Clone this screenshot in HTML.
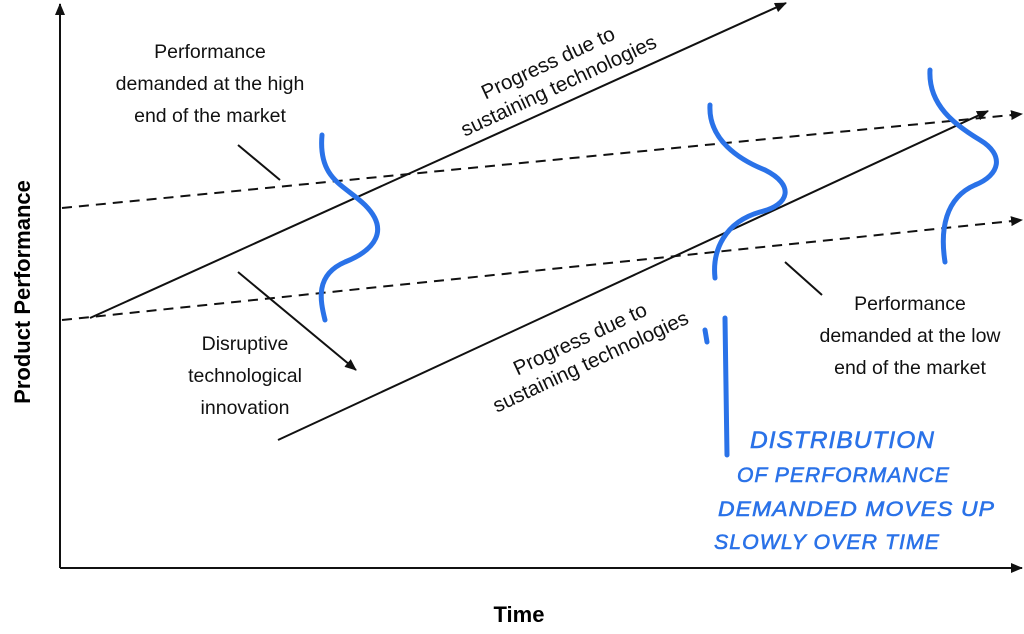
<!DOCTYPE html>
<html><head><style>
body{margin:0;background:#fff;width:1024px;height:634px;overflow:hidden}
svg{display:block}
.t{font-family:"Liberation Sans",sans-serif;font-size:19.5px;fill:#111}
.b{font-family:"Liberation Sans",sans-serif;font-size:24px;fill:#2a72e8;stroke:#2a72e8;stroke-width:0.6;font-style:italic;letter-spacing:1px}
</style></head><body>
<svg width="1024" height="634" viewBox="0 0 1024 634">
<defs><marker id="a" markerWidth="12" markerHeight="10" refX="11" refY="5" orient="auto" markerUnits="userSpaceOnUse"><path d="M0,0 L12,5 L0,10 z" fill="#111"/></marker></defs>
<g stroke="#111" stroke-width="2" fill="none">
<line x1="60" y1="568" x2="60" y2="4" marker-end="url(#a)"/>
<line x1="60" y1="568" x2="1022" y2="568" marker-end="url(#a)"/>
<line x1="62" y1="208" x2="1022" y2="114" stroke-dasharray="10,7" marker-end="url(#a)"/>
<line x1="62" y1="320" x2="1022" y2="220" stroke-dasharray="10,7" marker-end="url(#a)"/>
<line x1="90" y1="318" x2="786" y2="3" marker-end="url(#a)"/>
<line x1="278" y1="440" x2="988" y2="111" marker-end="url(#a)"/>
<line x1="238" y1="145" x2="280" y2="180"/>
<line x1="238" y1="272" x2="356" y2="370" marker-end="url(#a)"/>
<line x1="785" y1="262" x2="822" y2="295"/>
</g>
<g stroke="#2a72e8" stroke-width="5" fill="none" stroke-linecap="round">
<path d="M322,135 C318,180 345,185 365,205 C390,230 375,250 345,262 C315,275 320,300 325,320"/>
<path d="M710,105 C708,140 740,160 765,170 C795,185 790,205 760,212 C725,222 712,250 715,278"/>
<path d="M930,70 C928,105 955,125 980,140 C1005,155 1000,175 975,185 C945,198 940,230 945,262"/>
<line x1="725" y1="318" x2="727" y2="455"/>
<line x1="705" y1="330" x2="707" y2="342"/>
</g>
<text class="t" text-anchor="middle" x="210" y="58">Performance</text>
<text class="t" text-anchor="middle" x="210" y="90">demanded at the high</text>
<text class="t" text-anchor="middle" x="210" y="122">end of the market</text>
<text class="t" text-anchor="middle" x="245" y="350">Disruptive</text>
<text class="t" text-anchor="middle" x="245" y="382">technological</text>
<text class="t" text-anchor="middle" x="245" y="414">innovation</text>
<text class="t" text-anchor="middle" x="910" y="310">Performance</text>
<text class="t" text-anchor="middle" x="910" y="342">demanded at the low</text>
<text class="t" text-anchor="middle" x="910" y="374">end of the market</text>
<g transform="translate(556,80) rotate(-25)">
<text class="t" text-anchor="middle" x="0" y="-12" style="font-size:20.5px">Progress due to</text>
<text class="t" text-anchor="middle" x="0" y="13" style="font-size:20.5px">sustaining technologies</text></g>
<g transform="translate(588,356) rotate(-25)">
<text class="t" text-anchor="middle" x="0" y="-12" style="font-size:20.5px">Progress due to</text>
<text class="t" text-anchor="middle" x="0" y="13" style="font-size:20.5px">sustaining technologies</text></g>
<text x="519" y="622" text-anchor="middle" style="font-family:'Liberation Sans',sans-serif;font-weight:bold;font-size:22px">Time</text>
<text transform="translate(30,292) rotate(-90)" text-anchor="middle" style="font-family:'Liberation Sans',sans-serif;font-weight:bold;font-size:22px">Product Performance</text>
<text class="b" x="750" y="448" textLength="185" lengthAdjust="spacingAndGlyphs">DISTRIBUTION</text>
<text class="b" x="737" y="482" textLength="213" lengthAdjust="spacingAndGlyphs" style="font-size:21px">OF PERFORMANCE</text>
<text class="b" x="718" y="516" textLength="277" lengthAdjust="spacingAndGlyphs" style="font-size:21px">DEMANDED MOVES UP</text>
<text class="b" x="714" y="549" textLength="226" lengthAdjust="spacingAndGlyphs" style="font-size:21px">SLOWLY OVER TIME</text>
</svg>
</body></html>
